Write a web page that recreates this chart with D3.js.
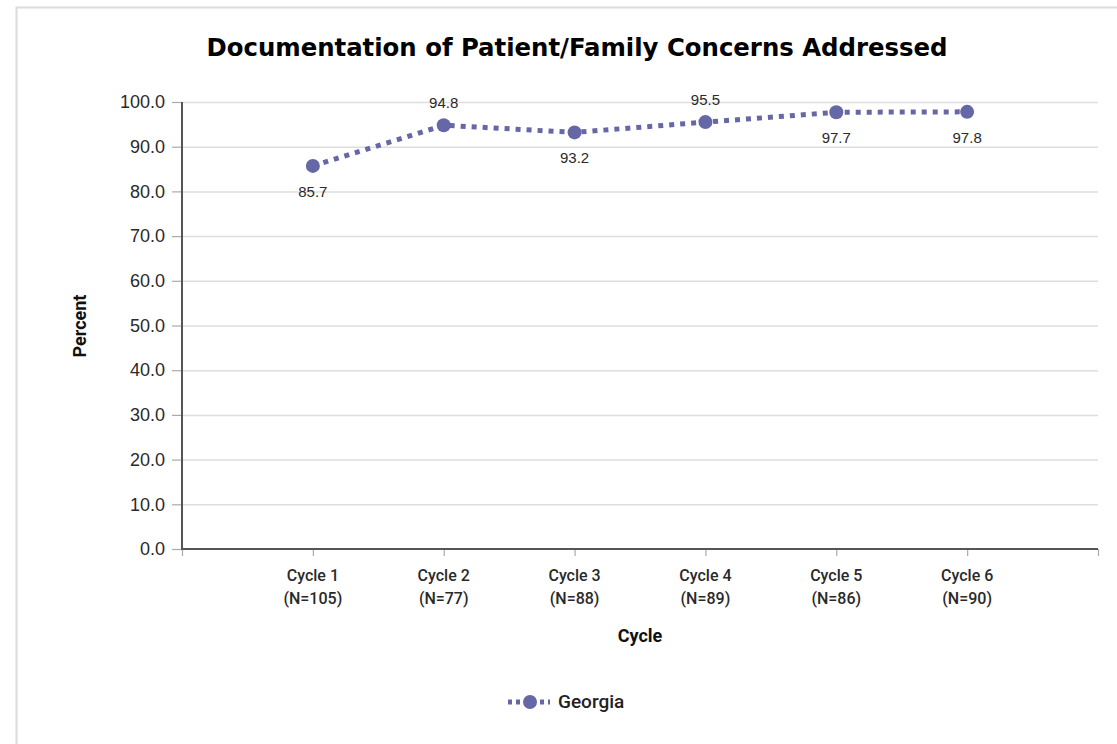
<!DOCTYPE html>
<html>
<head>
<meta charset="utf-8">
<script src="https://cdn.jsdelivr.net/npm/d3@7"></script>
<style>
  html, body { margin: 0; padding: 0; background: #fff; }
  svg { display: block; }
</style>
</head>
<body>
<svg id="chart" width="1117" height="744"></svg>
<script>
const categories = ["Cycle 1", "Cycle 2", "Cycle 3", "Cycle 4", "Cycle 5", "Cycle 6"];
const sampleSizes = ["(N=105)", "(N=77)", "(N=88)", "(N=89)", "(N=86)", "(N=90)"];
const georgiaValues = [85.7, 94.8, 93.2, 95.5, 97.7, 97.8];
const labelAbove = [false, true, false, true, false, false];
const yTicks = [0, 10, 20, 30, 40, 50, 60, 70, 80, 90, 100];
const seriesName = "Georgia";
const titleText = "Documentation of Patient/Family Concerns Addressed";

(function () {
const svg = d3.select("#chart");
const color = "#6667a6";
const pLeft = 182, pRight = 1098, pTop = 102, pBottom = 549;

// frame
svg.append("path").attr("d", "M16.5,744 V7.5 H1117")
  .attr("fill", "none").attr("stroke", "#dcdcdc").attr("stroke-width", 2);

// x positions: empty slot at each end
const xDomain = ["__start", ...categories, "__end"];
const x = d3.scalePoint().domain(xDomain).range([pLeft, pRight]).padding(0);
const y = d3.scaleLinear().domain([0, 100]).range([pBottom, pTop]);

// gridlines
svg.append("g").selectAll("line").data(yTicks.filter(d => d > 0)).join("line")
  .attr("x1", pLeft).attr("x2", pRight)
  .attr("y1", d => y(d) + 0.5).attr("y2", d => y(d) + 0.5)
  .attr("stroke", "#dedede").attr("stroke-width", 1.5);

// y axis
const yAxis = d3.axisLeft(y).tickValues(yTicks).tickFormat(d3.format(".1f")).tickSize(10).tickPadding(7);
const gy = svg.append("g").attr("transform", `translate(${pLeft},0)`).call(yAxis);
gy.select(".domain").remove();
gy.selectAll(".tick line").attr("stroke", "#aaa").attr("stroke-width", 1.2);
gy.selectAll(".tick text").attr("font-family", "Liberation Sans, Arial, sans-serif")
  .attr("font-size", 18).attr("fill", "#2a2a2a");
svg.append("line").attr("x1", pLeft).attr("x2", pLeft).attr("y1", pTop).attr("y2", pBottom)
  .attr("stroke", "#555").attr("stroke-width", 2);

// x axis
const xAxis = d3.axisBottom(x).tickValues(xDomain).tickSize(7).tickFormat("");
const gx = svg.append("g").attr("transform", `translate(0,${pBottom})`).call(xAxis);
gx.select(".domain").remove();
gx.selectAll(".tick line").attr("stroke", "#aaa").attr("stroke-width", 1.2);
svg.append("line").attr("x1", pLeft - 1).attr("x2", pRight).attr("y1", pBottom).attr("y2", pBottom)
  .attr("stroke", "#555").attr("stroke-width", 2.2);

// x tick labels
const xl = svg.append("g");
categories.forEach((c, i) => {
  xl.append("text").attr("x", x(c)).attr("y", 581).attr("text-anchor", "middle")
    .attr("font-family", "Roboto, sans-serif").attr("font-weight", 500).attr("font-size", 16)
    .attr("fill", "#2a2a2a").text(c);
  xl.append("text").attr("x", x(c)).attr("y", 604).attr("text-anchor", "middle")
    .attr("font-family", "Roboto, sans-serif").attr("font-weight", 500).attr("font-size", 16)
    .attr("fill", "#2a2a2a").text(sampleSizes[i]);
});

// axis titles
svg.append("text").attr("x", (pLeft + pRight) / 2).attr("y", 642).attr("text-anchor", "middle")
  .attr("font-family", "Roboto, sans-serif").attr("font-weight", 700).attr("font-size", 18)
  .attr("fill", "#111").text("Cycle");
svg.append("text").attr("transform", "translate(86,326) rotate(-90)").attr("text-anchor", "middle")
  .attr("font-family", "Roboto, sans-serif").attr("font-weight", 700).attr("font-size", 18)
  .attr("fill", "#111").text("Percent");

// title
svg.append("text").attr("x", 577).attr("y", 56).attr("text-anchor", "middle")
  .attr("font-family", "DejaVu Sans, sans-serif").attr("font-weight", 700).attr("font-size", 24)
  .style("font-stretch", "condensed")
  .attr("textLength", 741).attr("lengthAdjust", "spacingAndGlyphs")
  .attr("fill", "#000").text(titleText);

// line
const data = categories.map((c, i) => ({ c, v: georgiaValues[i], above: labelAbove[i] }));
const line = d3.line().x(d => x(d.c)).y(d => y(d.v));
svg.append("path").datum(data).attr("d", line)
  .attr("fill", "none").attr("stroke", color).attr("stroke-width", 5)
  .attr("stroke-dasharray", "5,6");
svg.append("g").selectAll("circle").data(data).join("circle")
  .attr("cx", d => x(d.c)).attr("cy", d => y(d.v)).attr("r", 7).attr("fill", color);

// value labels
svg.append("g").selectAll("text").data(data).join("text")
  .attr("x", d => x(d.c)).attr("y", d => d.above ? y(d.v) - 17 : y(d.v) + 31)
  .attr("text-anchor", "middle")
  .attr("font-family", "Liberation Sans, Arial, sans-serif").attr("font-size", 15)
  .attr("fill", "#2a2a2a").text(d => d.v.toFixed(1));

// legend
const lg = svg.append("g");
lg.append("line").attr("x1", 508).attr("x2", 550).attr("y1", 702).attr("y2", 702)
  .attr("stroke", color).attr("stroke-width", 5).attr("stroke-dasharray", "4,4");
lg.append("circle").attr("cx", 530).attr("cy", 702).attr("r", 7).attr("fill", color);
lg.append("text").attr("x", 558).attr("y", 708)
  .attr("font-family", "Roboto, sans-serif").attr("font-weight", 500).attr("font-size", 19)
  .attr("fill", "#222").text(seriesName);
})();
</script>
</body>
</html>
